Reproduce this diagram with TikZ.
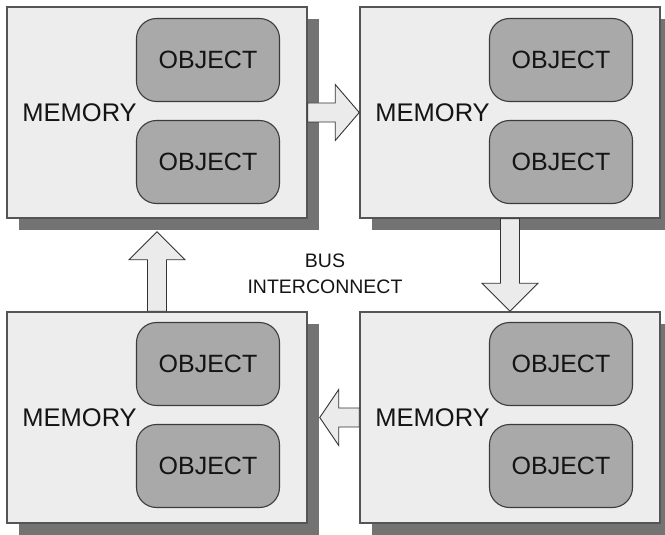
\documentclass[tikz,border=0pt]{standalone}
\usepackage{fontspec}
\setmainfont{Liberation Sans}
\usetikzlibrary{calc,shadows}

\definecolor{boxfill}{HTML}{EDEDED}
\definecolor{boxline}{HTML}{555555}
\definecolor{shadowgray}{HTML}{737373}
\definecolor{objfill}{HTML}{A9A9A9}
\definecolor{objline}{HTML}{3C3C3C}
\definecolor{arrowfill}{HTML}{EBEBEB}
\definecolor{arrowline}{HTML}{333333}
\definecolor{inkcol}{HTML}{141414}

\tikzset{
  membox/.style={draw=boxline, line width=1.5pt, fill=boxfill,
    minimum width=300pt, minimum height=211pt, inner sep=0pt,
    drop shadow={shadow xshift=12pt, shadow yshift=-12pt,
                 fill=shadowgray, opacity=1, draw=none}},
  objbox/.style={draw=objline, line width=1.1pt, fill=objfill,
    rounded corners=20pt, minimum width=143pt, minimum height=83pt,
    inner sep=0pt, font=\fontsize{25}{30}\selectfont, text=inkcol},
  memlabel/.style={anchor=west, inner sep=0pt, text depth=0pt,
    font=\fontsize{25.5}{30}\selectfont, text=inkcol},
  buslabel/.style={align=center, inner sep=0pt, text depth=0pt,
    font=\fontsize{19.5}{26}\selectfont, text=inkcol},
  flowarrowstyle/.style={draw=arrowline, line width=0.9pt, fill=arrowfill,
    line join=miter},
}

% one memory block: frame, label and two objects
% #1 name, #2 centre, #3 y offset of upper object, #4 y offset of lower object
\newcommand\memunit[4]{%
  \node[membox] (#1) at (#2) {};
  \node[memlabel] (#1-label) at ($(#1.west)+(16,0)$) {MEMORY};
  \node[objbox] (#1-a) at ($(#1.center)+(51,#3)$) {OBJECT};
  \node[objbox] (#1-b) at ($(#1.center)+(51,#4)$) {OBJECT};
}

% block arrow from #1 to #2 with head length #3
\newcommand\flowarrow[3]{%
  \coordinate (fa-h) at ($(#2)!#3!(#1)$);
  \draw[flowarrowstyle]
    ($(#1)!9.5pt!90:(#2)$) -- ($(fa-h)!9.5pt!-90:(#1)$)
    -- ($(fa-h)!28pt!-90:(#1)$) -- (#2)
    -- ($(fa-h)!28pt!90:(#1)$) -- ($(fa-h)!9.5pt!90:(#1)$)
    -- ($(#1)!9.5pt!-90:(#2)$) -- cycle;
}

\begin{document}
\begin{tikzpicture}[x=1pt, y=-1pt]
  \useasboundingbox (0,0) rectangle (665,535);

  \memunit{m1}{157,112.5}{-52.5}{49.5}
  \memunit{m2}{510,112.5}{-52.5}{49.5}
  \memunit{m3}{157,417.5}{-53.5}{48.5}
  \memunit{m4}{510,417.5}{-53.5}{48.5}

  \node[buslabel] (bus) at (325,273.5) {BUS\\INTERCONNECT};

  % arrow tips that end on a shadow edge
  \coordinate (m1-shadow) at ($(m1.south)+(0,13)$);
  \coordinate (m3-shadow) at ($(m3.east)+(12,0)$);

  \flowarrow{m1.east}{m2.west}{24pt}
  \flowarrow{m2.south}{m4.north}{28pt}
  \flowarrow{m4.west}{m3-shadow}{19pt}
  \flowarrow{m3.north}{m1-shadow}{28pt}
\end{tikzpicture}
\end{document}
